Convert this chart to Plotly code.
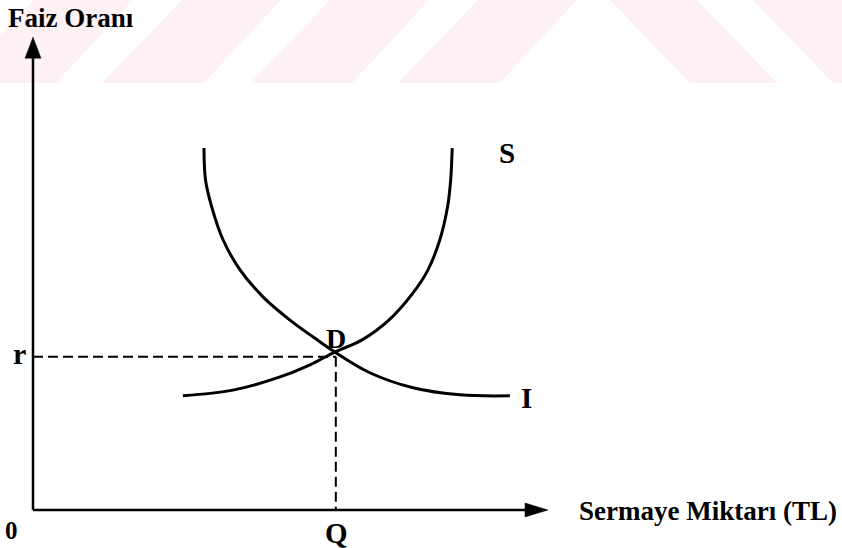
import plotly.graph_objects as go

# ---------------- data (arbitrary diagram units: quantity 0-100, rate 0-100) -------------
# Investment demand curve I (downward sloping, convex)
I_quantity = [33.2, 33.5, 34.7, 36.9, 40.2, 44.7, 49.9, 54.4, 58.6, 65.4, 73.8, 82.9, 92.6]
I_rate     = [77.0, 70.2, 64.5, 57.5, 51.1, 45.3, 40.4, 36.8, 33.6, 29.2, 26.0, 24.5, 24.3]

# Savings (supply) curve S (upward sloping, convex)
S_quantity = [29.1, 38.8, 47.4, 53.8, 58.6, 63.9, 69.1, 73.8, 76.7, 79.0, 80.5, 81.1, 81.4]
S_rate     = [24.3, 25.5, 28.1, 30.9, 33.6, 36.2, 40.4, 46.2, 51.1, 57.5, 64.5, 70.2, 77.0]

# Equilibrium point D
eq_quantity = 58.8
eq_rate = 32.6

axis_max_x = 100.0
axis_max_y = 100.6

labels = {
    "y_title": "Faiz Oranı",
    "x_title": "Sermaye Miktarı (TL)",
    "S": "S", "I": "I", "D": "D", "r": "r", "Q": "Q", "origin": "0",
}

# ---------------- figure geometry ----------------
W, H = 842, 548
x_range = [-6.408, 157.09]
y_range = [-8.085, 108.51]
px_per_x = W / (x_range[1] - x_range[0])
px_per_y = H / (y_range[1] - y_range[0])

fig = go.Figure()

line_style = dict(color="black", width=3, shape="spline", smoothing=1.0)
fig.add_trace(go.Scatter(x=I_quantity, y=I_rate, mode="lines", line=line_style,
                         hoverinfo="skip", showlegend=False))
fig.add_trace(go.Scatter(x=S_quantity, y=S_rate, mode="lines", line=line_style,
                         hoverinfo="skip", showlegend=False))

# dashed guides to the axes
dash = dict(color="black", width=2, dash="10px,5px")
fig.add_trace(go.Scatter(x=[0, eq_quantity], y=[eq_rate, eq_rate], mode="lines",
                         line=dash, hoverinfo="skip", showlegend=False))
fig.add_trace(go.Scatter(x=[eq_quantity, eq_quantity], y=[eq_rate, 0], mode="lines",
                         line=dash, hoverinfo="skip", showlegend=False))

# axes with arrowheads
head_len_x = 23 / px_per_x
head_half_y = 7 / px_per_y
head_len_y = 21 / px_per_y
head_half_x = 8 / px_per_x
ax_line = dict(color="black", width=2.5)
fig.add_trace(go.Scatter(x=[0, axis_max_x - head_len_x], y=[0, 0], mode="lines",
                         line=ax_line, hoverinfo="skip", showlegend=False))
fig.add_trace(go.Scatter(x=[0, 0], y=[0, axis_max_y - head_len_y], mode="lines",
                         line=ax_line, hoverinfo="skip", showlegend=False))

shapes = []
shapes.append(dict(type="path", xref="x", yref="y",
                   path=f"M {axis_max_x} 0 L {axis_max_x - head_len_x} {head_half_y} "
                        f"L {axis_max_x - head_len_x} {-head_half_y} Z",
                   fillcolor="black", line=dict(color="black", width=0.5)))
shapes.append(dict(type="path", xref="x", yref="y",
                   path=f"M 0 {axis_max_y} L {-head_half_x} {axis_max_y - head_len_y} "
                        f"L {head_half_x} {axis_max_y - head_len_y} Z",
                   fillcolor="black", line=dict(color="black", width=0.5)))

# faint pink watermark band at top (decorative)
def px_path(pts):
    s = ""
    for i, (px, py) in enumerate(pts):
        s += ("M " if i == 0 else "L ") + f"{px / W:.5f} {1 - py / H:.5f} "
    return s + "Z"

band_bottom = 83
pink = "#fef1f3"
for b0, b1 in [(-194, -92), (-46, 56), (102, 204), (250, 352), (398, 500)]:
    t0, t1 = b0 + 80, b1 + 77
    shapes.append(dict(type="path", xref="paper", yref="paper", layer="below",
                       path=px_path([(b0, band_bottom), (b1, band_bottom), (t1, 0), (t0, 0)]),
                       fillcolor=pink, line=dict(width=0)))
for b0, b1 in [(690, 777), (833, 923)]:
    t0, t1 = b0 - 80, b1 - 80
    shapes.append(dict(type="path", xref="paper", yref="paper", layer="below",
                       path=px_path([(b0, band_bottom), (b1, band_bottom), (t1, 0), (t0, 0)]),
                       fillcolor=pink, line=dict(width=0)))

font_family = "Liberation Serif"

def ann(text, x, y, size, xanchor="center", yanchor="middle"):
    return dict(text=text, x=x, y=y, xref="x", yref="y", showarrow=False,
                xanchor=xanchor, yanchor=yanchor,
                font=dict(family=font_family, size=size, color="black", weight="bold"))

annotations = [
    ann(labels["y_title"], 7.3, 104.6, 27),
    ann(labels["x_title"], 105.6, -0.3, 27, xanchor="left"),
    ann(labels["S"], 92.0, 76.0, 29),
    ann(labels["I"], 95.9, 23.8, 29),
    ann(labels["D"], 58.8, 36.4, 28),
    ann(labels["r"], -2.7, 33.3, 30),
    ann(labels["origin"], -4.1, -4.3, 25),
    ann(labels["Q"], 59.0, -4.9, 29),
]

fig.update_layout(
    width=W, height=H,
    margin=dict(l=0, r=0, t=0, b=0),
    paper_bgcolor="white", plot_bgcolor="white",
    xaxis=dict(range=x_range, visible=False, fixedrange=True),
    yaxis=dict(range=y_range, visible=False, fixedrange=True),
    shapes=shapes,
    annotations=annotations,
    showlegend=False,
)

fig.write_html("out.html", config={"displayModeBar": False},
               post_script="document.body.style.margin='0';document.body.style.overflow='hidden';")
